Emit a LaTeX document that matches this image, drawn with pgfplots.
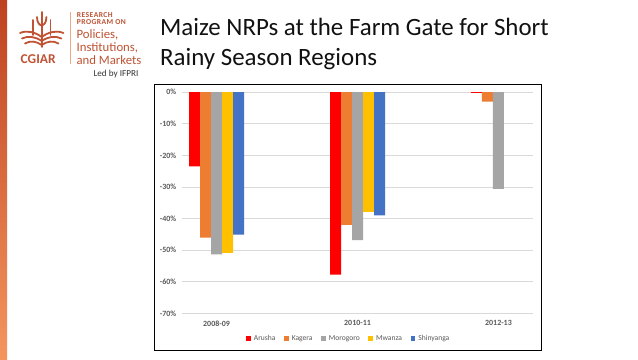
\documentclass[border=0pt]{standalone}
\usepackage{fontspec}
\setmainfont{Carlito}
\usepackage{pgfplots}
\pgfplotsset{compat=1.18}
\definecolor{cArusha}{HTML}{FF0000}
\definecolor{cKagera}{HTML}{ED7D31}
\definecolor{cMorogoro}{HTML}{A5A5A5}
\definecolor{cMwanza}{HTML}{FFC000}
\definecolor{cShinyanga}{HTML}{4472C4}
\definecolor{gridgray}{HTML}{D9D9D9}
\definecolor{ticktext}{HTML}{595959}
\definecolor{logo}{HTML}{BF5334}
\definecolor{logolight}{HTML}{EBA88A}
\definecolor{bartop}{HTML}{BE4220}
\definecolor{barbot}{HTML}{F4955E}
\definecolor{titletext}{HTML}{111111}
\begin{document}
\begin{tikzpicture}[x=1bp,y=-1bp]
\path[use as bounding box] (0,0) rectangle (638,359);
\fill[white] (0,0) rectangle (638,359);
\shade[top color=bartop, bottom color=barbot] (0,0) rectangle (7,359);
% logo icon
\begin{scope}[draw=logo, line width=1.8bp, line cap=round]
\draw (41.7,12) -- (41.7,47);
\draw (37,17) .. controls (37,28) and (46.4,28) .. (46.4,17);
\draw (33,20) -- (33,35);
\draw (50.4,20) -- (50.4,35);
\draw (41.7,37) .. controls (35,32) and (27,30) .. (20,33);
\draw (41.7,41) .. controls (35,36.5) and (28,35.5) .. (22,38.5);
\draw (41.7,45) .. controls (36,41) and (30,40.5) .. (25,43.5);
\draw (41.7,37) .. controls (48.4,32) and (56.4,30) .. (63.4,33);
\draw (41.7,41) .. controls (48.4,36.5) and (55.4,35.5) .. (61.4,38.5);
\draw (41.7,45) .. controls (47.4,41) and (53.4,40.5) .. (58.4,43.5);
\end{scope}
\node[anchor=base west, inner sep=0pt, text=logo, font=\bfseries\fontsize{13.5}{14}\selectfont] at (20.5,63.5) {CGIAR};
\draw[logolight, line width=0.6bp] (70,12) -- (70,64);
\node[anchor=base west, inner sep=0pt, text=logo, font=\bfseries\fontsize{7.6}{8}\selectfont\addfontfeature{LetterSpace=6}] at (76.7,17.5) {RESEARCH};
\node[anchor=base west, inner sep=0pt, text=logo, font=\bfseries\fontsize{7.6}{8}\selectfont\addfontfeature{LetterSpace=6}] at (76.7,24) {PROGRAM ON};
\node[anchor=base west, inner sep=0pt, text=logo, font=\fontsize{12.8}{13}\selectfont] at (76.4,38.3) {Policies,};
\node[anchor=base west, inner sep=0pt, text=logo, font=\fontsize{12.8}{13}\selectfont] at (76.4,51.7) {Institutions,};
\node[anchor=base west, inner sep=0pt, text=logo, font=\fontsize{12.8}{13}\selectfont] at (76.4,64.5) {and Markets};
\node[anchor=base west, inner sep=0pt, text=black!80, font=\fontsize{9.2}{10}\selectfont] at (93.3,76.5) {Led by IFPRI};
% title
\node[anchor=base west, inner sep=0pt, text=titletext, font=\fontsize{25}{30}\selectfont] at (160,35.5) {Maize NRPs at the Farm Gate for Short};
\node[anchor=base west, inner sep=0pt, text=titletext, font=\fontsize{25}{30}\selectfont] at (160,65.8) {Rainy Season Regions};
% chart border
\draw[black, line width=1bp] (154.5,84.5) rectangle (541.5,350);
\begin{axis}[
  at={(182bp,-92bp)}, anchor=north west,
  scale only axis, width=351bp, height=221.5bp,
  xmin=-0.245, xmax=2.245, ymin=-70, ymax=0,
  ybar=0pt, bar width=11bp,
  axis line style={draw=none},
  major tick length=0pt,
  xtick={0,1,2}, xticklabels={2008-09,2010-11,2012-13},
  ytick={-70,-60,-50,-40,-30,-20,-10,0},
  yticklabels={-70\%,-60\%,-50\%,-40\%,-30\%,-20\%,-10\%,0\%},
  ymajorgrids, grid style={color=gridgray, line width=0.75bp},
  xticklabel style={anchor=center, inner sep=0pt, yshift=-9.8bp, font=\bfseries\fontsize{8}{9}\selectfont, text=ticktext},
  yticklabel style={anchor=east, inner sep=0pt, xshift=-5.5bp, font=\bfseries\fontsize{8}{9}\selectfont, text=ticktext},
  legend columns=5,
  legend style={draw=none, fill=none, at={(0.475,-0.115)}, anchor=center,
    font=\fontsize{7.6}{9}\selectfont, text=ticktext,
    /tikz/every even column/.append style={column sep=6.5bp},
    /tikz/every odd column/.append style={column sep=1bp}},
  legend image code/.code={\fill[#1,draw=none] (0bp,-2.3bp) rectangle (4.8bp,2.5bp);},
]
\addplot[fill=cArusha, draw=none] coordinates {(0,-23.5) (1,-57.7) (2,-0.3)};
\addplot[fill=cKagera, draw=none] coordinates {(0,-46.0) (1,-42.0) (2,-3.0)};
\addplot[fill=cMorogoro, draw=none] coordinates {(0,-51.3) (1,-46.8) (2,-30.6)};
\addplot[fill=cMwanza, draw=none] coordinates {(0,-50.8) (1,-37.9)};
\addplot[fill=cShinyanga, draw=none] coordinates {(0,-45.1) (1,-39.0)};
\legend{Arusha,Kagera,Morogoro,Mwanza,Shinyanga}
\end{axis}
\end{tikzpicture}
\end{document}
